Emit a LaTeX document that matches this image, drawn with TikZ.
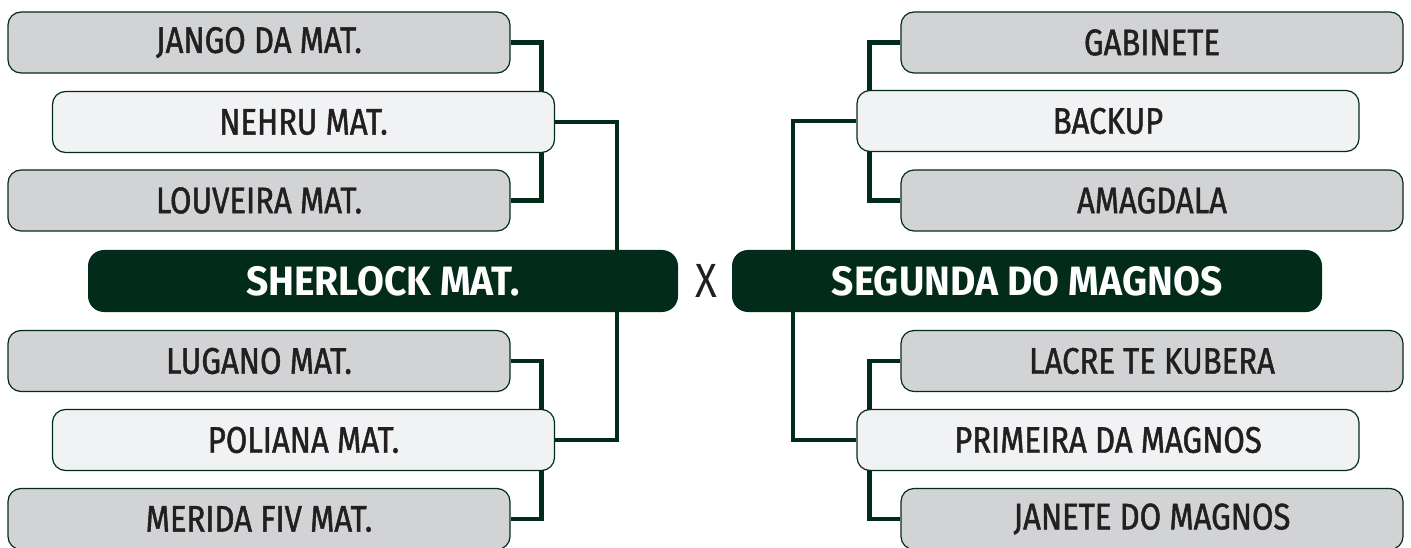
\documentclass[tikz,border=0pt]{standalone}
\usepackage{fontspec}
\setmainfont{Fira Sans}[FakeStretch=0.84]
\newfontfamily\teamfont{Fira Sans}[FakeStretch=0.84, FakeBold=1.3]
\newfontfamily\finalfont{Fira Sans Bold}[FakeStretch=0.95]
\usetikzlibrary{positioning, backgrounds}
\definecolor{matgreen}{HTML}{032B1A}
\definecolor{matgray}{HTML}{D1D3D4}
\definecolor{matlight}{HTML}{F1F2F3}
\definecolor{matink}{HTML}{231F20}

\begin{document}
\begin{tikzpicture}[x=1pt, y=-1pt,
		team/.style={draw=matgreen, line width=1.2pt, rounded corners=13pt, fill=matgray, text=matink, minimum width=502pt, minimum height=61pt, font=\fontsize{37}{40}\teamfont},
		seed/.style={team, fill=matlight},
		final/.style={fill=matgreen, rounded corners=16pt, text=white, minimum width=590pt, minimum height=62pt, font=\fontsize{41}{45}\finalfont},
		link/.style={draw=matgreen, line width=4.5pt}]
		
		\useasboundingbox (0,0) rectangle (1411,548);
		
		\node[team] (l1) at (259,42.5) {JANGO DA MAT.};
		\node[seed] (l2) at (303.5,122) {NEHRU MAT.};
		\node[team] (l3) at (259,200.5) {LOUVEIRA MAT.};
		\node[final] (l4) at (383,281) {SHERLOCK MAT.};
		\node[team] (l5) at (259,361) {LUGANO MAT.};
		\node[seed] (l6) at (303.5,440) {POLIANA MAT.};
		\node[team] (l7) at (259,519) {MERIDA FIV MAT.};
		
		\node[text=matink, font=\fontsize{48}{52}\selectfont] (x) at (706,281) {X};
		
		\node[team] (r1) at (1152,42.5) {GABINETE};
		\node[seed] (r2) at (1108,121) {BACKUP};
		\node[team] (r3) at (1152,200.5) {AMAGDALA};
		\node[final] (r4) at (1027,281) {SEGUNDA DO MAGNOS};
		\node[team] (r5) at (1152,361) {LACRE TE KUBERA};
		\node[seed] (r6) at (1108,440) {PRIMEIRA DA MAGNOS};
		\node[team] (r7) at (1152,519) {JANETE DO MAGNOS};
		
		\begin{scope}[on background layer]
		\draw[link] (l1.east) -- ++(31,0) |- (l3.east);
		\draw[link] (l2.east) -| ([xshift=-61pt]l4.north east);
		\draw[link] ([xshift=-61pt]l4.south east) |- (l6.east);
		\draw[link] (l5.east) -- ++(31,0) |- (l7.east);
		
		\draw[link] (r1.west) -- ++(-31,0) |- (r3.west);
		\draw[link] (r2.west) -| ([xshift=61pt]r4.north west);
		\draw[link] ([xshift=61pt]r4.south west) |- (r6.west);
		\draw[link] (r5.west) -- ++(-31,0) |- (r7.west);
		\end{scope}
		
\end{tikzpicture}
\end{document}
